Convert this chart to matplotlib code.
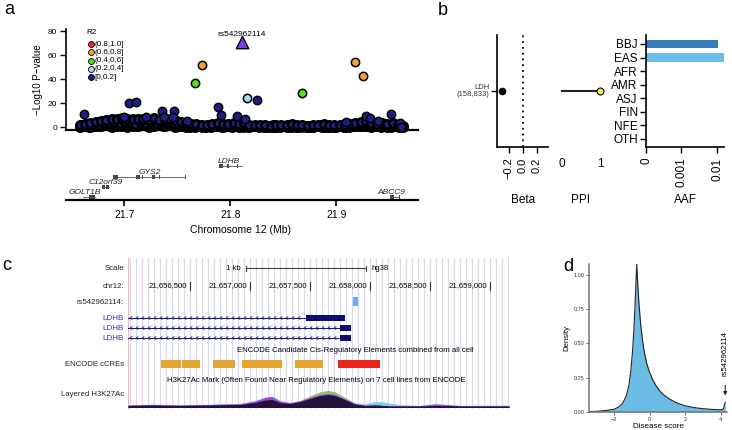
import numpy as np
import matplotlib
matplotlib.use('Agg')
import matplotlib.pyplot as plt
from matplotlib.patches import Rectangle
from matplotlib.collections import LineCollection

plt.rcParams['font.family'] = ['Liberation Sans', 'DejaVu Sans']

# ---------------- data: panel a (regional association) ----------------
band_x = [21.658, 21.663, 21.668, 21.673, 21.678, 21.683, 21.688, 21.693, 21.698, 21.703,
          21.708, 21.713, 21.718, 21.723, 21.728, 21.733, 21.738, 21.743, 21.748, 21.753,
          21.758, 21.763, 21.768, 21.773, 21.778, 21.783, 21.788, 21.793, 21.798, 21.803,
          21.808, 21.813, 21.818, 21.823, 21.828, 21.833, 21.838, 21.843, 21.848, 21.853,
          21.858, 21.863, 21.868, 21.873, 21.878, 21.883, 21.888, 21.893, 21.898, 21.903,
          21.908, 21.913, 21.918, 21.923, 21.928, 21.933, 21.938, 21.943, 21.948, 21.953,
          21.958, 21.963]
band_low = [0.3, 0.8, 0.2, 1.1, 0.5, 1.4, 0.3, 0.9, 1.6, 0.4, 1.2, 0.7, 1.8, 0.2, 1.0, 1.5,
            0.6, 1.3, 0.4, 0.9, 0.2, 0.7, 1.1, 0.3, 0.8, 0.5, 1.2, 0.2, 0.6, 0.9, 0.4, 1.0,
            0.3, 0.7, 0.5, 0.2, 0.9, 0.4, 0.6, 0.3, 0.8, 0.2, 0.5, 0.7, 0.3, 0.9, 0.4, 0.2,
            0.6, 0.8, 0.3, 0.5, 0.7, 1.2, 0.9, 0.4, 1.1, 0.6, 0.3, 0.8, 0.5, 0.2]
band_high = [1.5, 2.5, 3.5, 4.0, 5.0, 6.0, 7.0, 6.5, 7.2, 6.8, 7.0, 6.5, 6.8, 6.0, 7.5, 6.0,
             7.0, 6.5, 5.5, 4.5, 3.5, 2.8, 2.2, 2.0, 1.8, 2.5, 3.0, 2.2, 2.8, 3.5, 2.5, 3.0,
             2.0, 1.5, 2.0, 1.5, 1.2, 2.0, 1.6, 1.3, 2.2, 1.5, 1.8, 1.2, 2.0, 1.5, 2.5, 1.4,
             1.8, 1.5, 2.0, 2.8, 3.5, 4.5, 5.0, 3.5, 2.5, 3.0, 2.2, 3.2, 2.0, 1.0]
band_mid_x = [21.6605, 21.6655, 21.6705, 21.6755, 21.6805, 21.6855, 21.6905, 21.6955,
              21.7005, 21.7055, 21.7105, 21.7155, 21.7205, 21.7255, 21.7305, 21.7355,
              21.7405, 21.7455, 21.7505, 21.7555, 21.7605, 21.7655, 21.7705, 21.7755,
              21.7805, 21.7855, 21.7905, 21.7955, 21.8005, 21.8055, 21.8105, 21.8155,
              21.8205, 21.8255, 21.8305, 21.8355, 21.8405, 21.8455, 21.8505, 21.8555,
              21.8605, 21.8655, 21.8705, 21.8755, 21.8805, 21.8855, 21.8905, 21.8955,
              21.9005, 21.9055, 21.9105, 21.9155, 21.9205, 21.9255, 21.9305, 21.9355,
              21.9405, 21.9455, 21.9505, 21.9555, 21.9605]
band_mid_y = [0.8, 1.8, 2.5, 2.0, 3.0, 3.5, 4.0, 3.0, 4.5, 3.8, 2.5, 4.0, 3.5, 4.2, 3.0,
              4.5, 3.8, 3.2, 2.8, 2.0, 1.5, 1.8, 1.2, 1.0, 1.5, 2.0, 1.6, 1.2, 1.8, 1.5,
              2.0, 1.2, 1.0, 0.8, 1.2, 0.9, 1.4, 1.0, 0.8, 1.3, 0.9, 1.1, 0.7, 1.2, 0.9,
              1.5, 0.8, 1.0, 1.2, 0.9, 1.5, 2.0, 2.8, 3.0, 2.2, 1.5, 2.0, 1.4, 1.8, 1.2,
              0.6]
band_q_x = [21.6593, 21.6643, 21.6693, 21.6743, 21.6793, 21.6843, 21.6893, 21.6943, 21.6993,
            21.7043, 21.7093, 21.7143, 21.7193, 21.7243, 21.7293, 21.7343, 21.7393, 21.7443,
            21.7493, 21.7543, 21.7593, 21.7643, 21.7693, 21.7743, 21.7793, 21.7843, 21.7893,
            21.7943, 21.7993, 21.8043, 21.8093, 21.8143, 21.8193, 21.8243, 21.8293, 21.8343,
            21.8393, 21.8443, 21.8493, 21.8543, 21.8593, 21.8643, 21.8693, 21.8743, 21.8793,
            21.8843, 21.8893, 21.8943, 21.8993, 21.9043, 21.9093, 21.9143, 21.9193, 21.9243,
            21.9293, 21.9343, 21.9393, 21.9443, 21.9493, 21.9543, 21.9593]
band_q_y = [0.5, 1.5, 2.0, 2.8, 2.2, 4.0, 3.0, 5.0, 2.5, 4.5, 5.5, 3.2, 4.8, 2.8, 5.2, 3.5,
            4.0, 5.0, 2.5, 1.5, 1.0, 0.6, 1.4, 0.5, 1.0, 1.6, 0.8, 1.3, 0.6, 2.2, 1.4, 0.7,
            1.1, 0.5, 0.9, 0.6, 0.4, 1.0, 0.7, 0.3, 1.0, 0.6, 0.9, 0.4, 0.8, 0.5, 1.2, 0.6,
            0.3, 0.9, 0.7, 1.6, 1.8, 2.5, 3.5, 1.8, 1.0, 1.6, 0.8, 2.0, 0.4]
band_r_x = [21.6618, 21.6668, 21.6718, 21.6768, 21.6818, 21.6868, 21.6918, 21.6968, 21.7018,
            21.7068, 21.7118, 21.7168, 21.7218, 21.7268, 21.7318, 21.7368, 21.7418, 21.7468,
            21.7518, 21.7568, 21.7618, 21.7668, 21.7718, 21.7768, 21.7818, 21.7868, 21.7918,
            21.7968, 21.8018, 21.8068, 21.8118, 21.8168, 21.8218, 21.8268, 21.8318, 21.8368,
            21.8418, 21.8468, 21.8518, 21.8568, 21.8618, 21.8668, 21.8718, 21.8768, 21.8818,
            21.8868, 21.8918, 21.8968, 21.9018, 21.9068, 21.9118, 21.9168, 21.9218, 21.9268,
            21.9318, 21.9368, 21.9418, 21.9468, 21.9518, 21.9568, 21.9618]
band_r_y = [1.0, 0.4, 1.2, 0.6, 1.8, 0.8, 2.2, 1.0, 1.5, 2.0, 0.8, 2.5, 1.2, 1.8, 2.4, 1.0,
            2.0, 1.4, 1.0, 0.6, 0.4, 0.3, 0.5, 0.2, 0.4, 0.6, 0.3, 0.5, 0.2, 0.6, 0.4, 0.2,
            0.5, 0.3, 0.2, 0.4, 0.3, 0.2, 0.5, 0.3, 0.2, 0.4, 0.3, 0.2, 0.5, 0.3, 0.4, 0.2,
            0.5, 0.3, 0.2, 0.5, 0.8, 1.2, 0.6, 0.9, 0.4, 0.7, 0.3, 0.5, 0.2]
extra_x = [21.662, 21.704, 21.711, 21.736, 21.747, 21.788, 21.791, 21.806, 21.814, 21.825,
           21.952, 21.928, 21.932, 21.960, 21.961, 21.759, 21.737, 21.746, 21.700, 21.720,
           21.939, 21.909]
extra_y = [10.5, 20, 20.5, 13.5, 13.5, 17, 10, 9.5, 7, 22.5, 10.5, 9, 7.5, 3.2, 0.3, 5,
           8, 8, 8, 8, 5, 4]
r2_lb_x, r2_lb_y = [21.816], [24.5]
r2_gr_x, r2_gr_y = [21.767, 21.868], [36.5, 28.5]
r2_or_x, r2_or_y = [21.773, 21.918, 21.925], [52, 54.5, 42.5]
lead_x, lead_y, lead_name = 21.811, 70.5, 'rs542962114'
legend_labels = ['(0.8,1.0]', '(0.6,0.8]', '(0.4,0.6]', '(0.2,0.4]', '[0,0.2]']
a_yticks = [0, 20, 40, 60, 80]
a_xticks = [21.7, 21.8, 21.9]

gene_names = ['GOLT1B', 'C12orf39', 'GYS2', 'LDHB', 'ABCC9']
gene_start = [21.6615, 21.679, 21.689, 21.7889, 21.951]
gene_end = [21.672, 21.686, 21.7575, 21.811, 21.9594]
gene_row = [0, 1, 2, 3, 0]
gene_label_x = [21.663, 21.682, 21.7239, 21.7984, 21.952]
gene_exons = [
    [(21.6645, 21.6652), (21.667, 21.672)],
    [(21.679, 21.6822), (21.6828, 21.686)],
    [(21.689, 21.6945), (21.6955, 21.6962), (21.7113, 21.7145), (21.7170, 21.7176),
     (21.7211, 21.7217), (21.7262, 21.7293), (21.7330, 21.7336), (21.7572, 21.7578)],
    [(21.7889, 21.7927), (21.797, 21.7985), (21.8003, 21.8009), (21.8066, 21.8072),
     (21.8107, 21.8113)],
    [(21.951, 21.9547), (21.9591, 21.9597)],
]

# ---------------- data: panel b ----------------
trait_label = 'LDH\n(158,833)'
beta = [-0.30]
ppi = [1.0]
pops = ['BBJ', 'EAS', 'AFR', 'AMR', 'ASJ', 'FIN', 'NFE', 'OTH']
aaf = [0.0106, 0.0153, 0, 0, 0, 0, 0, 0]
beta_ticks = [-0.2, 0.0, 0.2]
beta_ticklabels = ['\u22120.2', '0.0', '0.2']
aaf_ticks = [0, 0.001, 0.01]
aaf_ticklabels = ['0', '0.001', '0.01']

# ---------------- data: panel c (genome browser) ----------------
view_start, view_end = 21655983, 21659158
chr_ticks = [21656500, 21657000, 21657500, 21658000, 21658500, 21659000]
scale_start, scale_len = 21656966, 1000
snp_start, snp_end = 21657858, 21657900
ldhb_thick_start = [21657466, 21657750, 21657750]
ldhb_thick_end = [21657791, 21657841, 21657841]
ccre_start = [21656258, 21656433, 21656691, 21656933, 21657375, 21657733]
ccre_end = [21656425, 21656583, 21656875, 21657266, 21657608, 21658083]
ccre_type = ['dELS', 'dELS', 'dELS', 'dELS', 'dELS', 'PLS']
h3_pos = [21655983, 21656166, 21656416, 21656666, 21656916, 21657041, 21657124, 21657183,
          21657249, 21657333, 21657416, 21657499, 21657583, 21657649, 21657708, 21657791,
          21657874, 21657958, 21658041, 21658099, 21658166, 21658249, 21658416, 21658541,
          21658641, 21658749, 21658916, 21659158]
h3_dark = [2, 2.5, 2, 2.5, 3, 5, 7.5, 8, 5, 4, 6, 9, 12, 13, 12, 8, 3.5, 2, 2.5, 2, 1.5,
           1.5, 1.5, 2, 2, 1.5, 1.5, 1.5]
h3_purple = [0.5, 0.5, 0.5, 0.5, 0.8, 1.5, 2.5, 3, 1.5, 0.8, 0.5, 1, 1, 1, 1, 0.5, 0.3,
             0.3, 0.3, 0.3, 0.3, 0.3, 0.3, 1.5, 0.8, 0.3, 0.3, 0.3]
h3_green = [0, 0, 0, 0, 0, 0, 0, 0, 0, 0, 0.5, 1.5, 2.5, 3, 2.5, 1.5, 0.5, 0, 0, 0, 0, 0,
            0, 0, 0, 0, 0, 0]
h3_cyan = [0.3, 0.3, 0.3, 0.3, 0.3, 0.3, 0.3, 0.3, 0.3, 0.3, 0, 0, 0, 0, 0, 0, 0.5, 1.5,
           3, 3.5, 2.5, 1, 0.3, 0.3, 0.3, 0.3, 0.5, 0.5]

# ---------------- data: panel d ----------------
score_x = [-3.4, -3.0, -2.5, -2.0, -1.75, -1.5, -1.3, -1.15, -1.05, -0.95, -0.88, -0.82,
           -0.77, -0.72, -0.67, -0.6, -0.5, -0.4, -0.3, -0.15, 0.0, 0.2, 0.4, 0.6, 0.8,
           1.0, 1.25, 1.5, 2.0, 2.5, 3.0, 3.5, 3.9, 4.1, 4.17, 4.22, 4.25]
density_y = [0.003, 0.005, 0.01, 0.02, 0.035, 0.065, 0.12, 0.2, 0.3, 0.45, 0.6, 0.76,
             0.92, 1.08, 0.95, 0.8, 0.64, 0.53, 0.44, 0.35, 0.29, 0.23, 0.185, 0.15,
             0.125, 0.105, 0.085, 0.068, 0.045, 0.032, 0.024, 0.019, 0.016, 0.017, 0.03,
             0.055, 0.07]
d_xticks = [-2, 0, 2, 4]
d_yticks = [0.0, 0.25, 0.5, 0.75, 1.0]
snp_score = 4.25

# ---------------- figure ----------------
W, H = 732, 430
fig = plt.figure(figsize=(W / 100, H / 100), dpi=100)


def pax(x0, y0, x1, y1):
    return fig.add_axes([x0 / W, 1 - y1 / H, (x1 - x0) / W, (y1 - y0) / H])


def ftext(x, y, s, **kw):
    return fig.text(x / W, 1 - y / H, s, **kw)


NAVY = '#1f1f85'
C_RED, C_OR, C_GR, C_LB = '#e8291c', '#f0a236', '#55dd1e', '#a6d8f2'

# panel labels
ftext(4, 14, 'a', fontsize=13, va='baseline')
ftext(438, 15, 'b', fontsize=13, va='baseline')
ftext(2, 270, 'c', fontsize=13, va='baseline')
ftext(563, 271, 'd', fontsize=13, va='baseline')

# ---- panel a: scatter ----
XL = (21.645, 21.977)
ax = pax(66, 29, 418, 130)
ax.set_xlim(*XL)
ax.set_ylim(-2.5, 81.7)
for s in ['top', 'right']:
    ax.spines[s].set_visible(False)
ax.spines['left'].set_linewidth(1.2)
ax.spines['bottom'].set_linewidth(1.6)
ax.set_xticks([])
ax.set_yticks(a_yticks)
ax.tick_params(axis='y', length=4, width=1, labelsize=6, pad=2.5)
ax.set_ylabel('\u2212Log10 P\u2212value', fontsize=7, labelpad=3)
kw = dict(s=36, edgecolors='black', linewidths=1.1, clip_on=False)
kwb = dict(s=36, edgecolors='black', linewidths=1.9, clip_on=False)
for bxs, bys in [(band_x, band_low), (band_r_x, band_r_y), (band_q_x, band_q_y),
                 (band_mid_x, band_mid_y), (band_x, band_high)]:
    ax.scatter(bxs, bys, c=NAVY, zorder=2, **kwb)
ax.scatter(extra_x, extra_y, c=NAVY, zorder=3, **kw)
ax.scatter(r2_lb_x, r2_lb_y, c=C_LB, zorder=4, **kw)
ax.scatter(r2_gr_x, r2_gr_y, c=C_GR, zorder=4, **kw)
ax.scatter(r2_or_x, r2_or_y, c=C_OR, zorder=4, **kw)
ax.scatter([lead_x], [lead_y], marker='^', s=80, c='#7b3fe4', edgecolors='black',
           linewidths=1.0, zorder=5)
ax.text(lead_x, 77.5, lead_name, fontsize=6, ha='center', va='center')
# legend
ftext(86, 33, 'R2', fontsize=5.8, va='center')
for i, (lab, col) in enumerate(zip(legend_labels, [C_RED, C_OR, C_GR, C_LB, NAVY])):
    yy = 44 + i * 8.3
    fig.add_artist(plt.Line2D([91 / W], [1 - yy / H], marker='o', ms=4.3, mfc=col,
                              mec='black', mew=0.6, transform=fig.transFigure))
    ftext(94.5, yy, lab, fontsize=5.8, va='center')

# ---- panel a: genes ----
gx = pax(66, 150, 418, 200)
gx.set_xlim(*XL)
gx.set_ylim(0, 50)
for s in ['top', 'right', 'left']:
    gx.spines[s].set_visible(False)
gx.spines['bottom'].set_linewidth(1.6)
gx.set_yticks([])
gx.set_xticks(a_xticks)
gx.set_xticklabels([f'{v:.1f}' for v in a_xticks])
gx.tick_params(axis='x', length=4, width=1.2, labelsize=7.5, pad=3)
ftext(241, 230, 'Chromosome 12 (Mb)', fontsize=7.5, ha='center', va='center')
row_y = [3.3, 13.3, 23.3, 34]
for name, st, en, r, lx, exs in zip(gene_names, gene_start, gene_end, gene_row,
                                    gene_label_x, gene_exons):
    y = row_y[r]
    gx.plot([st, en], [y, y], color='#555555', lw=0.6)
    for e0, e1 in exs:
        gx.add_patch(Rectangle((e0, y - 2), max(e1 - e0, 0.0006), 4, color='#444444', lw=0))
    gx.text(lx, y + 2.6, name, fontsize=6, style='italic', ha='center', va='baseline',
            color='#222222')

# ---- panel b: beta ----
bx = pax(497, 35, 548, 147)
bx.set_xlim(-0.37, 0.36)
bx.set_ylim(-1, 1)
for s in ['top', 'right']:
    bx.spines[s].set_visible(False)
for s in ['left', 'bottom']:
    bx.spines[s].set_linewidth(1.2)
bx.axvline(0, color='black', lw=1.3, ls=(0, (1, 2.2)))
bx.plot(beta, [0], 'o', color='black', ms=4.5)
bx.set_yticks([0])
bx.set_yticklabels([''])
bx.set_xticks(beta_ticks)
bx.set_xticklabels(beta_ticklabels, rotation=90)
bx.tick_params(length=4, width=1, labelsize=8)
bx.text(-0.48, 0, trait_label, fontsize=5.5, ha='right', va='center', color='#333333',
        linespacing=1.0)
ftext(523, 200, 'Beta', fontsize=8.5, ha='center', va='center')

# ---- panel b: PPI ----
px_ = pax(555, 35, 607, 147)
px_.set_xlim(-0.184, 1.184)
px_.set_ylim(-1, 1)
for s in px_.spines.values():
    s.set_visible(False)
px_.plot([0, ppi[0]], [0, 0], color='#222222', lw=1.5)
px_.plot(ppi, [0], 'o', mfc='#eeee55', mec='black', mew=0.8, ms=5)
px_.set_yticks([])
px_.set_xticks([0, 1])
px_.tick_params(axis='x', length=0, labelsize=8.5, pad=8)
ftext(581, 200, 'PPI', fontsize=8.5, ha='center', va='center')

# ---- panel b: AAF ----
C0 = 0.00013


def fwd(x):
    x = np.asarray(x, dtype=float)
    return np.sign(x) * np.log10(1 + np.abs(x) / C0)


def inv(y):
    y = np.asarray(y, dtype=float)
    return np.sign(y) * (10 ** np.abs(y) - 1) * C0


fx = pax(646, 35, 724, 147)
fx.set_xscale('function', functions=(fwd, inv))
fx.set_xlim(0, 0.0153)
fx.set_ylim(7.59, -0.66)
for s in ['top', 'right']:
    fx.spines[s].set_visible(False)
for s in ['left', 'bottom']:
    fx.spines[s].set_linewidth(1.2)
fx.barh(range(len(pops)), aaf, height=0.6,
        color=['#3a7dbb', '#6cbde8'] + ['#6cbde8'] * 6)
fx.set_yticks(range(len(pops)))
fx.set_yticklabels(pops)
fx.set_xticks(aaf_ticks)
fx.set_xticklabels(aaf_ticklabels, rotation=90)
fx.xaxis.set_minor_locator(matplotlib.ticker.NullLocator())
fx.tick_params(length=4, width=1, labelsize=8.5)
fx.tick_params(axis='y', pad=2)
ftext(685, 200, 'AAF', fontsize=8.5, ha='center', va='center')

# ---- panel c: genome browser ----
cx = pax(128, 258, 509, 410)
cx.set_xlim(view_start, view_end)
cx.set_ylim(410, 258)
cx.axis('off')
bp_px = (view_end - view_start) / (509 - 128)  # bp per pixel
for g in np.arange(view_start + 20, view_end, 50 * 1.0):
    cx.plot([g, g], [258, 408], color='#d8d8f6', lw=0.8, zorder=0)
cx.plot([view_start, view_start], [258, 408], color='#f2b8b8', lw=1.0, zorder=0)
FS = 5.6
rows = [('Scale', 268), ('chr12:', 286), ('rs542962114:', 302), ('ENCODE cCREs', 364),
        ('Layered H3K27Ac', 395)]
for lab, yy in rows:
    ftext(124, yy, lab, fontsize=FS, ha='right', va='center', color='#222222')
for yy in (318, 328, 338):
    ftext(124, yy, 'LDHB', fontsize=FS + 0.3, ha='right', va='center', color='#36369e')
# scale bar
s0, s1 = scale_start, scale_start + scale_len
cx.plot([s0, s1], [268, 268], color='#444444', lw=0.8)
cx.plot([s0, s0], [265.5, 270.5], color='#444444', lw=0.8)
cx.plot([s1, s1], [265.5, 270.5], color='#444444', lw=0.8)
cx.text(s0 - 5 * bp_px, 268, '1 kb', fontsize=FS, ha='right', va='center')
cx.text(s1 + 6 * bp_px, 268, 'hg38', fontsize=FS, ha='left', va='center', clip_on=False)
for t in chr_ticks:
    cx.plot([t, t], [282, 290], color='#333333', lw=0.8)
    cx.text(t - 2.5 * bp_px, 286, f'{t:,}', fontsize=FS, ha='right', va='center')
# SNP
cx.add_patch(Rectangle((snp_start, 297), snp_end - snp_start, 9, color='#6fa8f5', lw=0))
# transcripts
segs = []
for yy, ts, te in zip((318, 328, 338), ldhb_thick_start, ldhb_thick_end):
    cx.plot([view_start, ts], [yy, yy], color='#141478', lw=0.7)
    cx.add_patch(Rectangle((ts, yy - 3), te - ts, 6, color='#0e0e70', lw=0))
    for xc in np.arange(view_start + 3 * bp_px, ts - 2 * bp_px, 6 * bp_px):
        segs.append([(xc + 1.3 * bp_px, yy - 1.6), (xc - 0.8 * bp_px, yy),
                     (xc + 1.3 * bp_px, yy + 1.6)])
cx.add_collection(LineCollection(segs, colors='#141478', linewidths=0.6))
cx.text(21656891, 350, 'ENCODE Candidate Cis-Regulatory Elements combined from all cell',
        fontsize=FS, ha='left', va='center', clip_on=False)
for st, en, tp in zip(ccre_start, ccre_end, ccre_type):
    col = '#e8231c' if tp == 'PLS' else '#e2a733'
    cx.add_patch(Rectangle((st, 360), en - st, 8, color=col, lw=0))
cx.text(21656308, 380,
        'H3K27Ac Mark (Often Found Near Regulatory Elements) on 7 cell lines from ENCODE',
        fontsize=FS, ha='left', va='center', clip_on=False)
base = 407.5
hd = np.array(h3_dark)
hp = hd + np.array(h3_purple)
hg = hp + np.array(h3_green)
hc = hg + np.array(h3_cyan)
cx.fill_between(h3_pos, base, base - hc, color='#7ccdf0', lw=0)
cx.fill_between(h3_pos, base, base - hg, color='#9cbf62', lw=0)
cx.fill_between(h3_pos, base, base - hp, color='#9a48f0', lw=0)
cx.fill_between(h3_pos, base, base - hd, color='#24123c', lw=0)

# ---- panel d: density ----
dx = pax(589, 264, 727, 412)
dx.set_xlim(-3.4, 4.35)
dx.set_ylim(0, 1.08)
for s in ['top', 'right']:
    dx.spines[s].set_visible(False)
for s in ['left', 'bottom']:
    dx.spines[s].set_linewidth(1.1)
    dx.spines[s].set_color('#777777')
dx.fill_between(score_x, 0, density_y, color='#6cbde6', lw=0)
dx.plot(score_x, density_y, color='#222222', lw=0.8)
dx.set_xticks(d_xticks)
dx.set_xticklabels(['\u22122', '0', '2', '4'])
dx.set_yticks(d_yticks)
dx.set_yticklabels([f'{v:.2f}' for v in d_yticks])
dx.tick_params(length=2, width=0.6, color='#555555', labelsize=4, pad=1.5,
               labelcolor='#333333')
dx.annotate('', xy=(snp_score, 0.10), xytext=(snp_score, 0.215),
            arrowprops=dict(arrowstyle='-|>', color='#222222', lw=0.8, mutation_scale=5))
dx.text(snp_score, 0.43, 'rs542962114', rotation=90, fontsize=5.6, ha='center',
        va='center', clip_on=False)
ftext(567, 338, 'Density', fontsize=5.6, rotation=90, ha='center', va='center')
ftext(658, 426, 'Disease score', fontsize=5.8, ha='center', va='center')

fig.savefig('out.png', dpi=100)
